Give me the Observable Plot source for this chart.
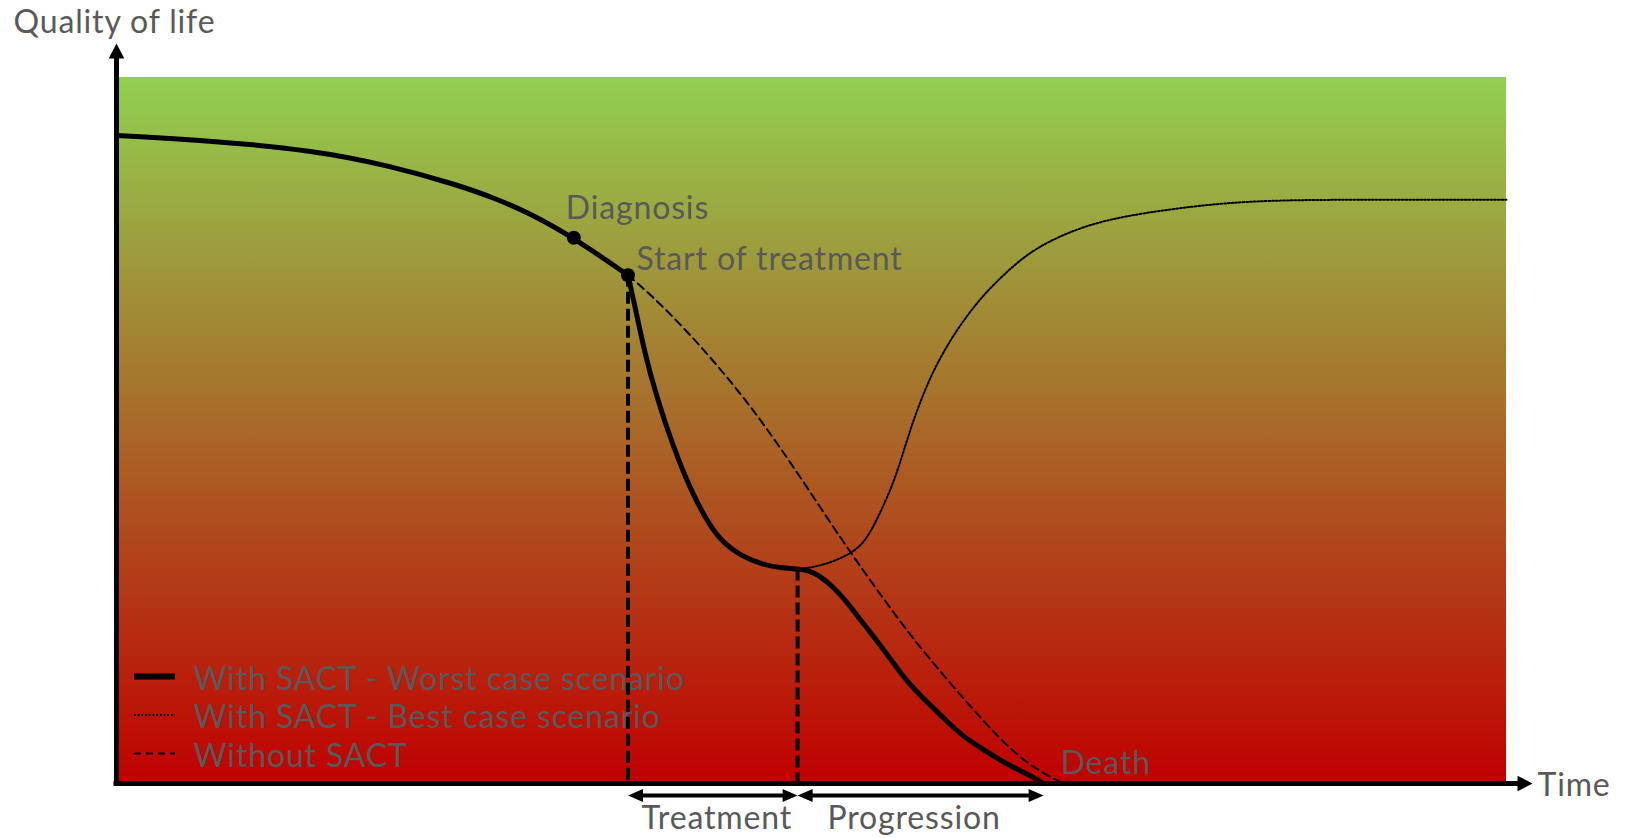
<!DOCTYPE html>
<html>
<head>
<meta charset="utf-8">
<script src="https://cdn.jsdelivr.net/npm/d3@7"></script>
<script src="https://cdn.jsdelivr.net/npm/@observablehq/plot@0.6"></script>
<style>
html, body { margin: 0; padding: 0; background: #ffffff; }
#chart svg { display: block; }
</style>
</head>
<body>
<div id="chart"></div>
<script>
// ---------------- DATA (time 0–100 along the axis, quality of life 0–100) ----------------
const worstTime = [0, 6.5, 14.2, 19.7, 24.5, 27.1, 29.7, 32.9, 36.8, 37.1, 38.1, 38.8, 39.6, 40.4, 41.4, 42.7, 43.7, 44.9, 46.3, 47.8, 49.0, 49.8, 50.6, 51.6, 52.6, 53.7, 55.0, 56.2, 57.3, 58.6, 59.8, 60.9, 62.2, 63.4, 64.5, 65.8, 66.7];
const worstQol  = [91.8, 91.1, 89.7, 87.5, 84.8, 83.0, 80.8, 77.3, 72.0, 69.4, 60.1, 55.3, 50.3, 46.0, 41.2, 36.4, 34.0, 32.3, 31.1, 30.5, 30.4, 30.2, 29.4, 27.8, 25.6, 22.7, 19.5, 16.2, 13.5, 11.0, 8.7, 6.7, 5.0, 3.5, 2.3, 1.1, 0];

const bestTime = [49.0, 50.1, 51.4, 52.9, 53.9, 54.7, 55.9, 56.6, 57.3, 58.3, 59.3, 60.5, 61.9, 63.1, 65.0, 66.8, 70.2, 75.0, 81.2, 88.8, 100];
const bestQol  = [30.4, 30.6, 31.3, 32.6, 34.4, 37.3, 42.5, 46.9, 51.3, 56.5, 60.5, 64.4, 68.1, 70.7, 74.2, 76.6, 79.5, 81.2, 82.6, 82.7, 82.7];

const withoutTime = [36.8, 38.4, 40.8, 43.2, 45.6, 48.0, 50.4, 52.8, 55.2, 57.3, 59.8, 62.2, 64.5, 66.5, 68.1];
const withoutQol  = [72.0, 69.3, 64.6, 59.3, 53.5, 46.9, 39.8, 32.7, 26.1, 20.5, 14.6, 9.2, 4.4, 1.6, 0];

const milestoneLabels = ["Diagnosis", "Start of treatment"];
const milestoneTime = [32.9, 36.8];
const milestoneQol  = [77.3, 72.0];

const phaseLabels = ["Treatment", "Progression"];
const phaseStart  = [36.8, 49.0];
const phaseEnd    = [49.0, 66.7];

const deathLabel = "Death";
const deathTime = 66.7;

const legendLabels = ["With SACT - Worst case scenario", "With SACT - Best case scenario", "Without SACT"];
const yAxisLabel = "Quality of life";
const xAxisLabel = "Time";

// ---------------- LAYOUT ----------------
const W = 1625, H = 838;
const X_RANGE = [116, 1506];
const Y_RANGE = [783, 77];
const px2t = d3.scaleLinear().domain(X_RANGE).range([0, 100]);
const py2q = d3.scaleLinear().domain(Y_RANGE).range([0, 100]);

const ink = "#000000";
const gray = "#595959";
const FONT = "Lato, 'Open Sans', sans-serif";
const FS = 32;
const LS = "0.85px";

const zip = (ts, qs) => ts.map((t, i) => ({t, q: qs[i]}));
const worst = zip(worstTime, worstQol);
// split the worst-case path at the start of treatment (a corner in the curve)
const splitAt = worstTime.indexOf(milestoneTime[1]);
const worstA = worst.slice(0, splitAt + 1);
const worstB = worst.slice(splitAt);
const best = zip(bestTime, bestQol);
const without = zip(withoutTime, withoutQol);
const milestones = milestoneLabels.map((label, i) => ({label, t: milestoneTime[i], q: milestoneQol[i]}));
const phases = phaseLabels.map((label, i) => ({label, start: phaseStart[i], end: phaseEnd[i], mid: (phaseStart[i] + phaseEnd[i]) / 2}));
const verticals = [
  {t: milestoneTime[1], q: milestoneQol[1]},
  {t: phaseEnd[0], q: worstQol[worstTime.indexOf(phaseEnd[0])]}
];

// arrow-head symbol with its tip at the origin
function arrowHead(angle, lenK, widK) {
  return {
    draw(ctx, size) {
      const r = Math.sqrt(size / Math.PI);
      const L = lenK * r, h = widK * r;
      const c = Math.cos(angle), s = Math.sin(angle);
      const pt = (x, y) => [x * c - y * s, x * s + y * c];
      ctx.moveTo(0, 0);
      let p = pt(-L, -h); ctx.lineTo(p[0], p[1]);
      p = pt(-L, h); ctx.lineTo(p[0], p[1]);
      ctx.closePath();
    }
  };
}
const headRight = arrowHead(0, 2.5, 1.1);
const headLeft = arrowHead(Math.PI, 2.5, 1.1);
const headUp = arrowHead(-Math.PI / 2, 2.5, 1.3);
const headAxisRight = arrowHead(0, 2.5, 1.3);

const arrowQ = py2q(795);
const legendLineY = [676, 714.5, 753].map(v => py2q(v));
const legendTextY = [689, 727.5, 766].map(v => py2q(v));

const txt = {textAnchor: "start", lineAnchor: "bottom", fontSize: FS, fill: gray};
const DOTS = "1.8,1.9";

const svg = Plot.plot({
  width: W,
  height: H,
  margin: 0,
  x: {domain: [0, 100], range: X_RANGE, axis: null},
  y: {domain: [0, 100], range: Y_RANGE, axis: null},
  style: {fontFamily: FONT, background: "#ffffff", letterSpacing: LS},
  marks: [
    // background gradient
    Plot.rect([{x1: 0, x2: 100, y1: 0, y2: 100}], {x1: "x1", x2: "x2", y1: "y1", y2: "y2", fill: "url(#qolGradient)"}),

    // legend
    Plot.ruleY([legendLineY[0]], {x1: px2t(134), x2: px2t(175), stroke: ink, strokeWidth: 6}),
    Plot.ruleY([legendLineY[1]], {x1: px2t(134), x2: px2t(175), stroke: ink, strokeWidth: 2, strokeDasharray: DOTS}),
    Plot.ruleY([legendLineY[2]], {x1: px2t(134), x2: px2t(175), stroke: ink, strokeWidth: 2, strokeDasharray: "7,5"}),
    Plot.text(legendLabels, {x: px2t(193), y: (d, i) => legendTextY[i], text: d => d, ...txt}),

    // vertical dashed markers
    Plot.ruleX(verticals, {x: "t", y1: "q", y2: 0, stroke: ink, strokeWidth: 4, strokeDasharray: "12,5"}),

    // curves
    Plot.line(without, {x: "t", y: "q", curve: "basis", stroke: ink, strokeWidth: 2, strokeDasharray: "8,5"}),
    Plot.line(best, {x: "t", y: "q", curve: "basis", stroke: ink, strokeWidth: 2, strokeDasharray: DOTS}),
    Plot.line(worstA, {x: "t", y: "q", curve: "basis", stroke: ink, strokeWidth: 5, strokeLinejoin: "round"}),
    Plot.line(worstB, {x: "t", y: "q", curve: "basis", stroke: ink, strokeWidth: 5, strokeLinejoin: "round"}),

    // milestone dots and labels
    Plot.dot(milestones, {x: "t", y: "q", r: 7, fill: ink, stroke: "none"}),
    Plot.text([milestones[0]], {x: "t", y: "q", text: "label", dx: -8, dy: -19, ...txt}),
    Plot.text([milestones[1]], {x: "t", y: "q", text: "label", dx: 8.5, dy: -5, ...txt}),
    Plot.text([deathLabel], {x: deathTime, y: 0, text: d => d, dx: 17, dy: -10, ...txt}),

    // axes with arrow heads
    Plot.ruleY([0], {x1: 0, x2: 100, insetLeft: -2.5, insetRight: -18, stroke: ink, strokeWidth: 5}),
    Plot.ruleX([0], {y1: 100, y2: 0, insetTop: -26, insetBottom: -2.5, stroke: ink, strokeWidth: 5}),
    Plot.dot([0], {x: 100, y: 0, dx: 26, symbol: headAxisRight, r: 6, fill: ink, stroke: "none"}),
    Plot.dot([0], {x: 0, y: 100, dy: -34, symbol: headUp, r: 6, fill: ink, stroke: "none"}),
    Plot.text([yAxisLabel], {x: px2t(13), y: py2q(32), text: d => d, ...txt}),
    Plot.text([xAxisLabel], {x: px2t(1537), y: py2q(795), text: d => d, ...txt}),

    // phase arrows
    Plot.ruleY(phases, {y: arrowQ, x1: "start", x2: "end", insetLeft: 10, insetRight: 10, stroke: ink, strokeWidth: 4}),
    Plot.dot(phases, {x: "start", y: arrowQ, symbol: headLeft, r: 6, fill: ink, stroke: "none"}),
    Plot.dot(phases, {x: "end", y: arrowQ, symbol: headRight, r: 6, fill: ink, stroke: "none"}),
    Plot.text([phases[0]], {x: "mid", y: arrowQ, text: "label", dx: 4, dy: 33, ...txt, textAnchor: "middle"}),
    Plot.text([phases[1]], {x: "mid", y: arrowQ, text: "label", dx: -6.5, dy: 33, ...txt, textAnchor: "middle"})
  ]
});

// gradient definition used by the background rect
const defs = d3.select(svg).insert("defs", ":first-child");
const grad = defs.append("linearGradient")
  .attr("id", "qolGradient")
  .attr("x1", 0).attr("y1", 0).attr("x2", 0).attr("y2", 1);
grad.append("stop").attr("offset", "0%").attr("stop-color", "#92D050");
grad.append("stop").attr("offset", "100%").attr("stop-color", "#C00000");

document.getElementById("chart").appendChild(svg);
</script>
</body>
</html>
